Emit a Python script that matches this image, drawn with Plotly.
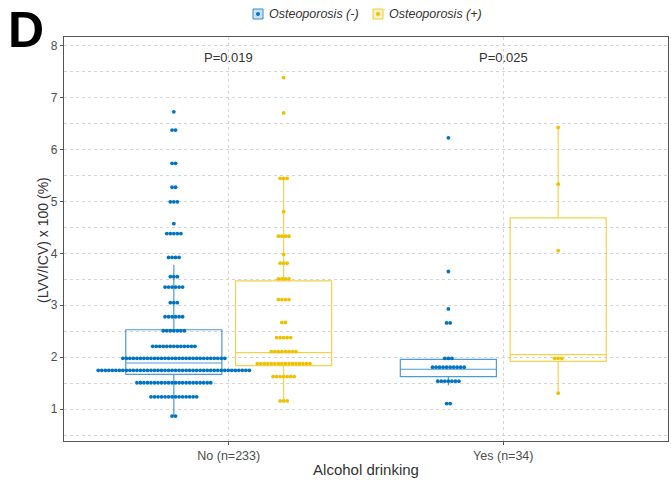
import plotly.graph_objects as go

# ---------------- data ----------------
categories = ["No (n=233)", "Yes (n=34)"]
groups = ["Osteoporosis (-)", "Osteoporosis (+)"]
colors = ["#0073C2", "#EFC000"]
light = ["rgba(0,115,194,0.25)", "rgba(239,192,0,0.25)"]

# dot-plot bins: (value, count)
no_neg_vals = [6.72, 6.37, 5.73, 5.27, 4.99, 4.57, 4.38, 3.92, 3.55, 3.35, 3.05, 2.78, 2.51, 2.21, 1.98, 1.75, 1.51, 1.24, 0.87]
no_neg_cnt = [1, 2, 2, 2, 3, 1, 5, 4, 3, 6, 3, 6, 7, 13, 30, 44, 22, 14, 2]
no_pos_vals = [7.38, 6.70, 5.44, 4.80, 4.33, 3.98, 3.81, 3.51, 3.11, 2.67, 2.38, 2.11, 1.88, 1.63, 1.16]
no_pos_cnt = [1, 1, 3, 1, 4, 1, 3, 4, 4, 2, 5, 8, 16, 7, 3]
yes_neg_vals = [6.22, 3.65, 2.93, 2.66, 1.98, 1.81, 1.54, 1.11]
yes_neg_cnt = [1, 1, 1, 2, 3, 10, 7, 2]
yes_pos_vals = [6.42, 5.33, 4.05, 1.98, 1.31]
yes_pos_cnt = [1, 1, 1, 3, 1]

# box statistics [No, Yes]
neg_q1 = [1.67, 1.63]; neg_med = [1.89, 1.77]; neg_q3 = [2.53, 1.96]
neg_lo = [0.87, 1.46]; neg_hi = [3.78, 1.98]
pos_q1 = [1.84, 1.92]; pos_med = [2.09, 2.05]; pos_q3 = [3.47, 4.68]
pos_lo = [1.16, 1.31]; pos_hi = [5.44, 6.42]

p_labels = ["P=0.019", "P=0.025"]

# ---------------- figure ----------------
W, H = 671, 481
ML, MR, MT, MB = 64, 3, 37, 40
PW, PH = W - ML - MR, H - MT - MB

def px(xp):
    return (xp - ML) / PW

def py(yp):
    return (H - MB - yp) / PH

dodge = 0.2
spacing = 0.0128
fig = go.Figure()

box_sets = [
    (0, neg_q1, neg_med, neg_q3, neg_lo, neg_hi, -dodge),
    (1, pos_q1, pos_med, pos_q3, pos_lo, pos_hi, dodge),
]
for gi, q1, med, q3, lo, hi, off in box_sets:
    fig.add_trace(go.Box(
        x=[i + off for i in range(len(categories))],
        q1=q1, median=med, q3=q3, lowerfence=lo, upperfence=hi,
        width=0.35, boxpoints=False, whiskerwidth=0,
        fillcolor="rgba(255,255,255,0)",
        line=dict(color=colors[gi], width=1.2), opacity=0.7,
        name=groups[gi], showlegend=False, hoverinfo="skip",
    ))

dot_sets = [
    (0, 0, no_neg_vals, no_neg_cnt),
    (1, 0, no_pos_vals, no_pos_cnt),
    (0, 1, yes_neg_vals, yes_neg_cnt),
    (1, 1, yes_pos_vals, yes_pos_cnt),
]
for gi, ci, vals, cnts in dot_sets:
    center = ci + (-dodge if gi == 0 else dodge)
    xs, ys = [], []
    for v, n in zip(vals, cnts):
        for k in range(n):
            xs.append(center + (k - (n - 1) / 2) * spacing)
            ys.append(v)
    fig.add_trace(go.Scatter(
        x=xs, y=ys, mode="markers",
        marker=dict(color=colors[gi], size=3.8, line=dict(width=0)),
        showlegend=False, hoverinfo="skip",
    ))

for ci, txt in enumerate(p_labels):
    fig.add_annotation(x=ci, y=7.77, text=txt, showarrow=False,
                       font=dict(size=13, color="#333333"))

fig.add_annotation(xref="paper", yref="paper", x=px(26), y=py(30),
                   text="<b>D</b>", showarrow=False, xanchor="center", yanchor="middle",
                   font=dict(size=50, color="black", family="Liberation Sans, Arial"))

# y-axis title placed as text next to the tick labels
fig.add_annotation(xref="paper", yref="paper", x=px(43), y=py(240),
                   text="(LVV/ICV) x 100 (%)", showarrow=False, textangle=-90,
                   xanchor="center", yanchor="middle",
                   font=dict(size=14, color="#333333"))

# manual legend (top center)
leg_icon_x = [258, 378]
leg_y = 14
for gi in range(2):
    cx = leg_icon_x[gi]
    fig.add_shape(type="rect", xref="paper", yref="paper",
                  x0=px(cx - 5), x1=px(cx + 5), y0=py(leg_y + 5), y1=py(leg_y - 5),
                  line=dict(color=colors[gi], width=1), fillcolor=light[gi], opacity=0.8)
    fig.add_shape(type="circle", xref="paper", yref="paper",
                  x0=px(cx - 2), x1=px(cx + 2), y0=py(leg_y + 2), y1=py(leg_y - 2),
                  line=dict(width=0), fillcolor=colors[gi])
    fig.add_annotation(xref="paper", yref="paper", x=px(cx + 9), y=py(leg_y),
                       text=groups[gi], showarrow=False, xanchor="left", yanchor="middle",
                       font=dict(size=12.5, color="#333333", style="italic"))

grid_col = "#d4d4d4"
fig.update_layout(
    width=W, height=H,
    margin=dict(l=ML, r=MR, t=MT, b=MB),
    paper_bgcolor="white", plot_bgcolor="white",
    font=dict(family="Liberation Sans, Arial", color="#333333"),
    showlegend=False,
    xaxis=dict(
        range=[-0.6, 1.6], tickmode="array", tickvals=[0, 1], ticktext=categories,
        showgrid=True, gridcolor=grid_col, griddash="dot", gridwidth=1,
        zeroline=False, showline=True, linecolor="#555555", linewidth=1.2, mirror=True,
        ticks="outside", ticklen=3, tickcolor="#555555",
        tickfont=dict(size=12.5, color="#4d4d4d"),
        title=dict(text="Alcohol drinking", font=dict(size=15, color="#333333"), standoff=2),
    ),
    yaxis=dict(
        range=[0.39, 8.16], tickmode="linear", tick0=1, dtick=1,
        showgrid=True, gridcolor=grid_col, griddash="dot", gridwidth=1,
        minor=dict(dtick=0.5, tick0=0.5, showgrid=True, gridcolor=grid_col, griddash="dot", gridwidth=1),
        zeroline=False, showline=True, linecolor="#555555", linewidth=1.2, mirror=True,
        ticks="outside", ticklen=3, tickcolor="#555555",
        tickfont=dict(size=12, color="#4d4d4d"),
    ),
)

fig.write_html("out.html")
